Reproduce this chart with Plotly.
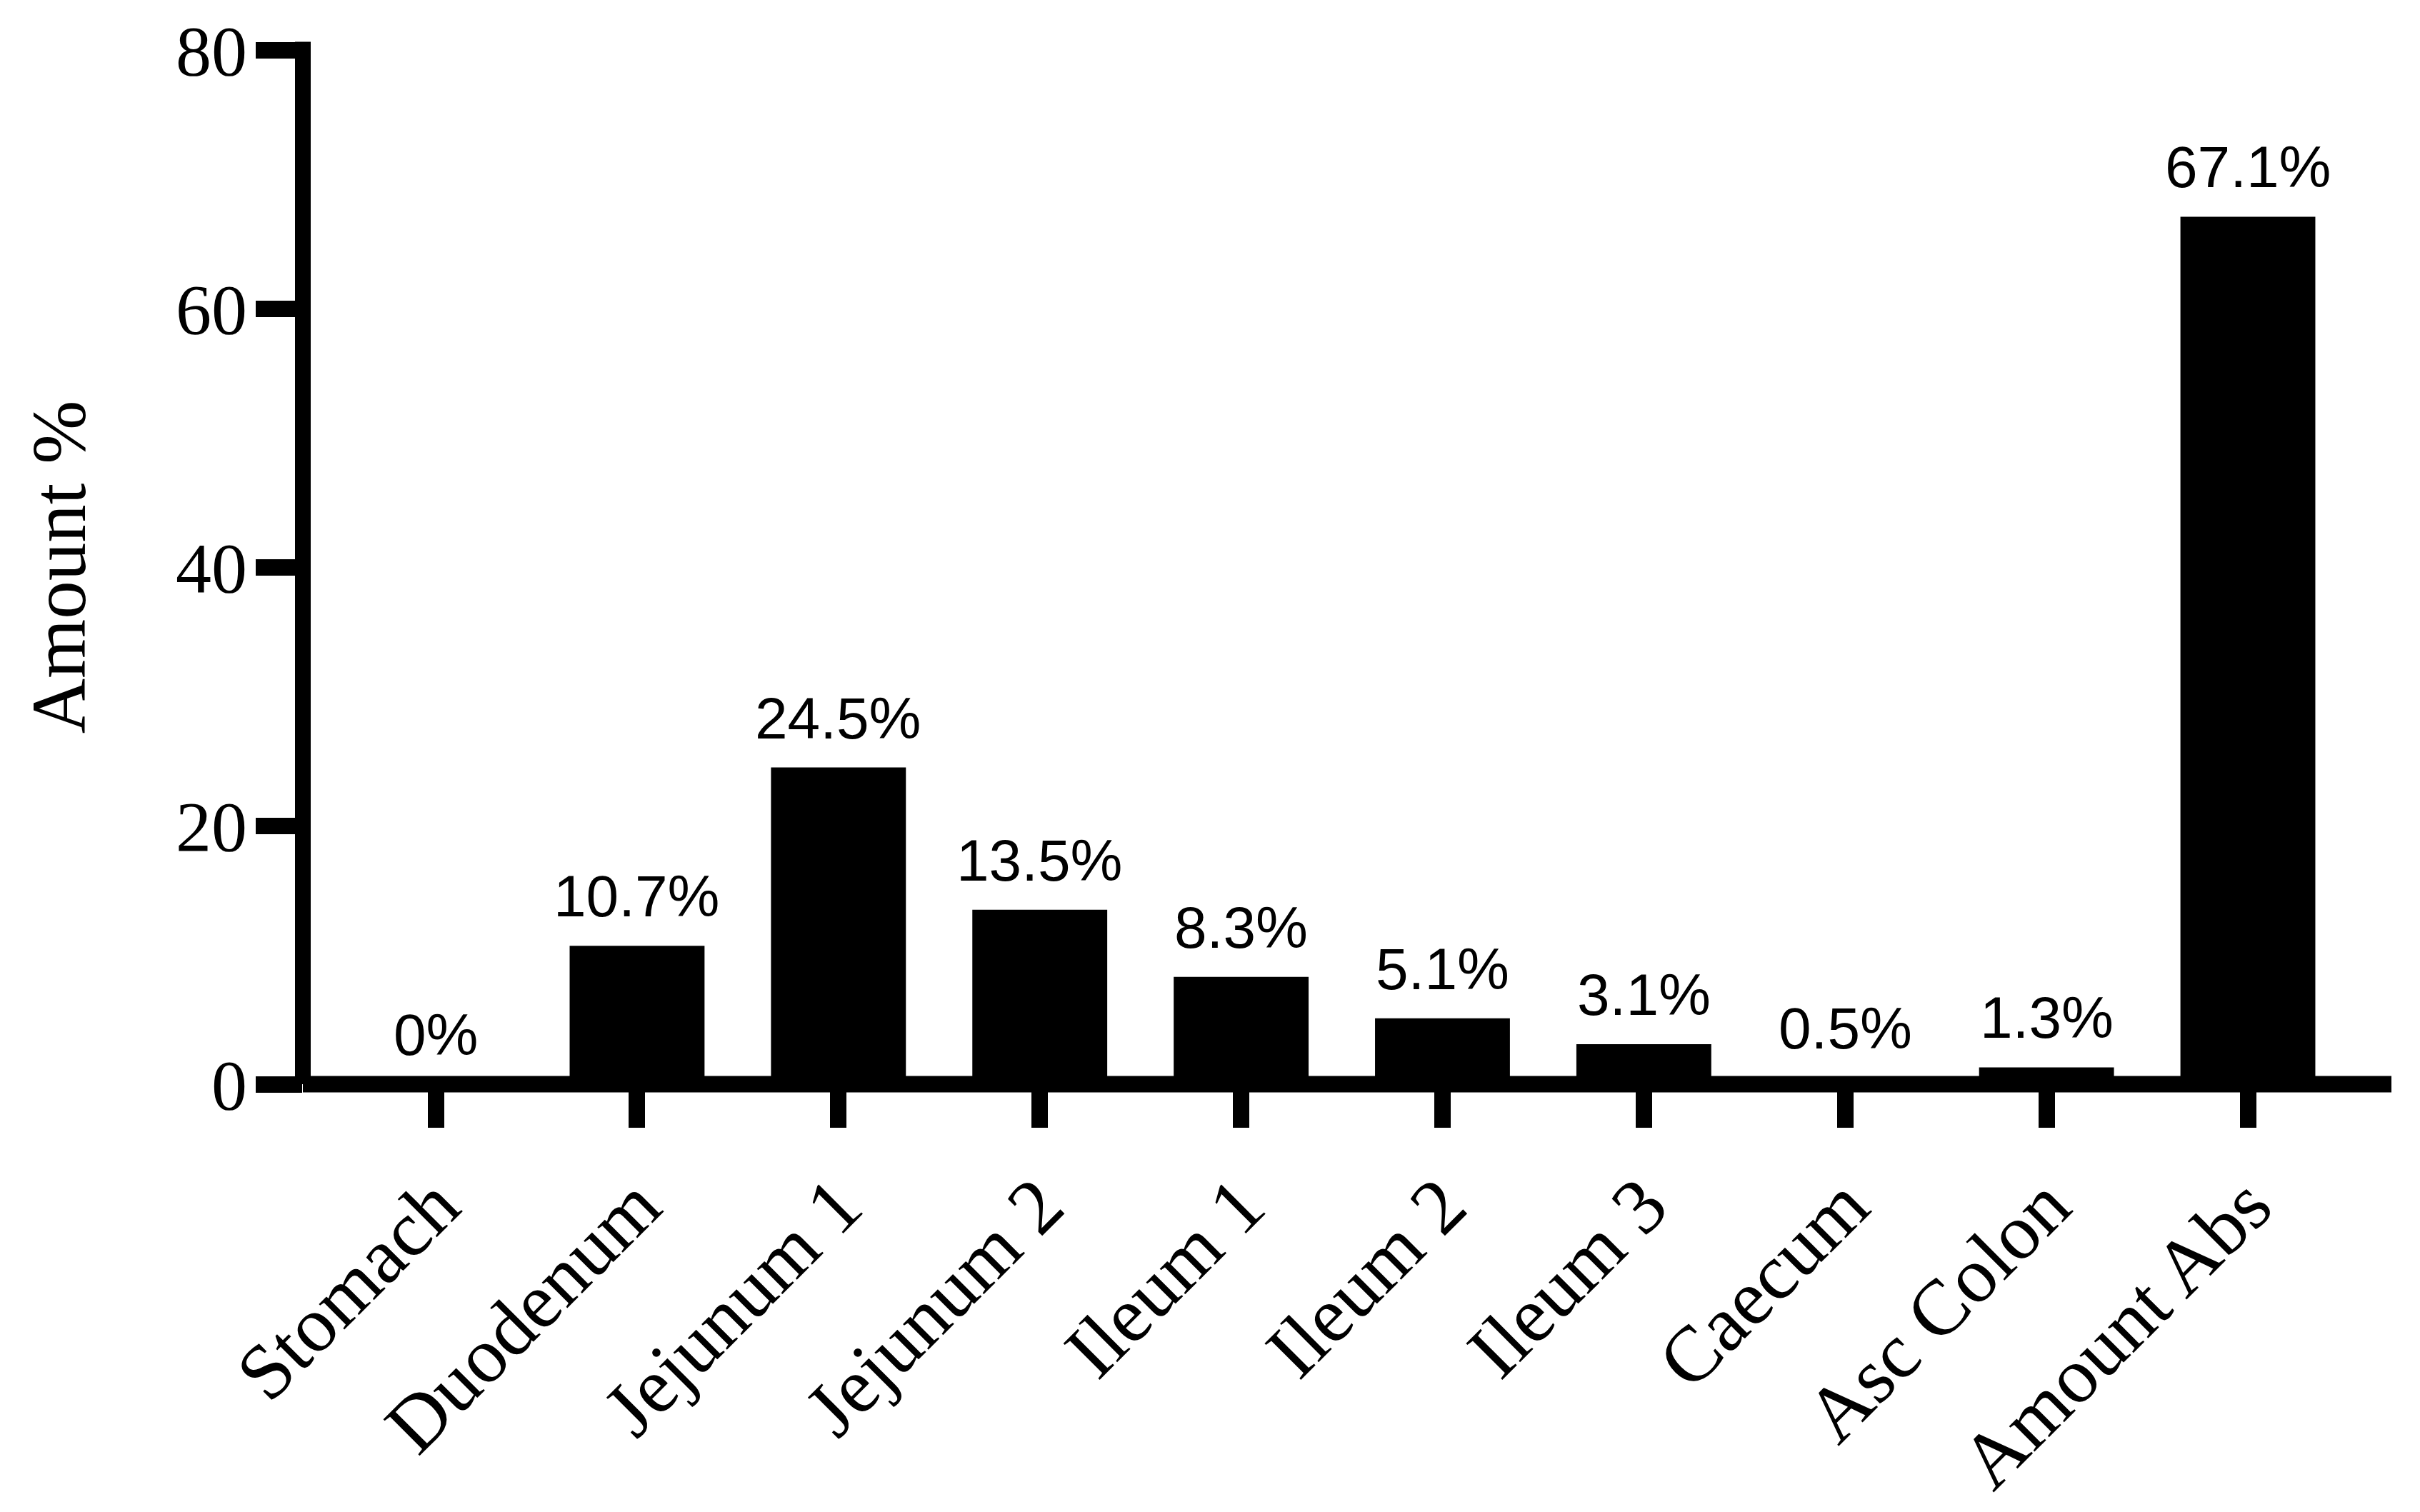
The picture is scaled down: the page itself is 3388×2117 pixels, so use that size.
import plotly.graph_objects as go

categories = ["Stomach", "Duodenum", "Jejunum 1", "Jejunum 2", "Ileum 1",
              "Ileum 2", "Ileum 3", "Caecum", "Asc Colon", "Amount Abs"]
values = [0, 10.7, 24.5, 13.5, 8.3, 5.1, 3.1, 0.5, 1.3, 67.1]
bar_labels = ["0%", "10.7%", "24.5%", "13.5%", "8.3%", "5.1%", "3.1%", "0.5%", "1.3%", "67.1%"]
y_ticks = [0, 20, 40, 60, 80]

SERIF = "Palatino Linotype, Palatino, Book Antiqua, Liberation Serif, serif"
SANS = "Liberation Sans, Arial, sans-serif"

fig = go.Figure()
fig.add_trace(go.Bar(
    x=categories, y=values,
    marker=dict(color="black", line=dict(width=0)),
    hoverinfo="skip",
))

for c, v, t in zip(categories, values, bar_labels):
    fig.add_annotation(
        x=c, y=v, text=t, showarrow=False,
        xanchor="center", yanchor="bottom", yshift=22,
        font=dict(family=SANS, size=82, color="black"),
    )

# axis lines (drawn centred on the data origin like the original)
fig.add_shape(type="line", xref="paper", yref="paper", x0=0, x1=1, y0=0, y1=0,
              line=dict(color="black", width=23), layer="above")
fig.add_shape(type="line", xref="paper", yref="paper", x0=0, x1=0, y0=0, y1=1.008,
              line=dict(color="black", width=22), layer="above")

# the page body has an 8px default margin, so the figure is made slightly smaller
fig.update_layout(
    width=3372, height=2101,
    margin=dict(l=416, r=32, t=62, b=591, autoexpand=False),
    paper_bgcolor="white", plot_bgcolor="white",
    bargap=0.33,
    showlegend=False,
    xaxis=dict(
        type="category",
        range=[-0.66, 9.713],
        automargin=False,
        showgrid=False, zeroline=False, showline=False,
        ticks="outside", ticklen=60, tickwidth=23, tickcolor="black",
        tickangle=-45,
        tickfont=dict(family=SERIF, size=110, color="black"),
    ),
    yaxis=dict(
        range=[0, 80],
        tickvals=y_ticks,
        automargin=False,
        showgrid=False, zeroline=False, showline=False,
        ticks="outside", ticklen=65, tickwidth=23, tickcolor="black",
        ticklabelstandoff=-8,
        tickfont=dict(family=SERIF, size=100, color="black"),
        title=dict(text="Amount %", font=dict(family=SERIF, size=107, color="black"),
                   standoff=90),
    ),
)

fig.write_html("out.html")
